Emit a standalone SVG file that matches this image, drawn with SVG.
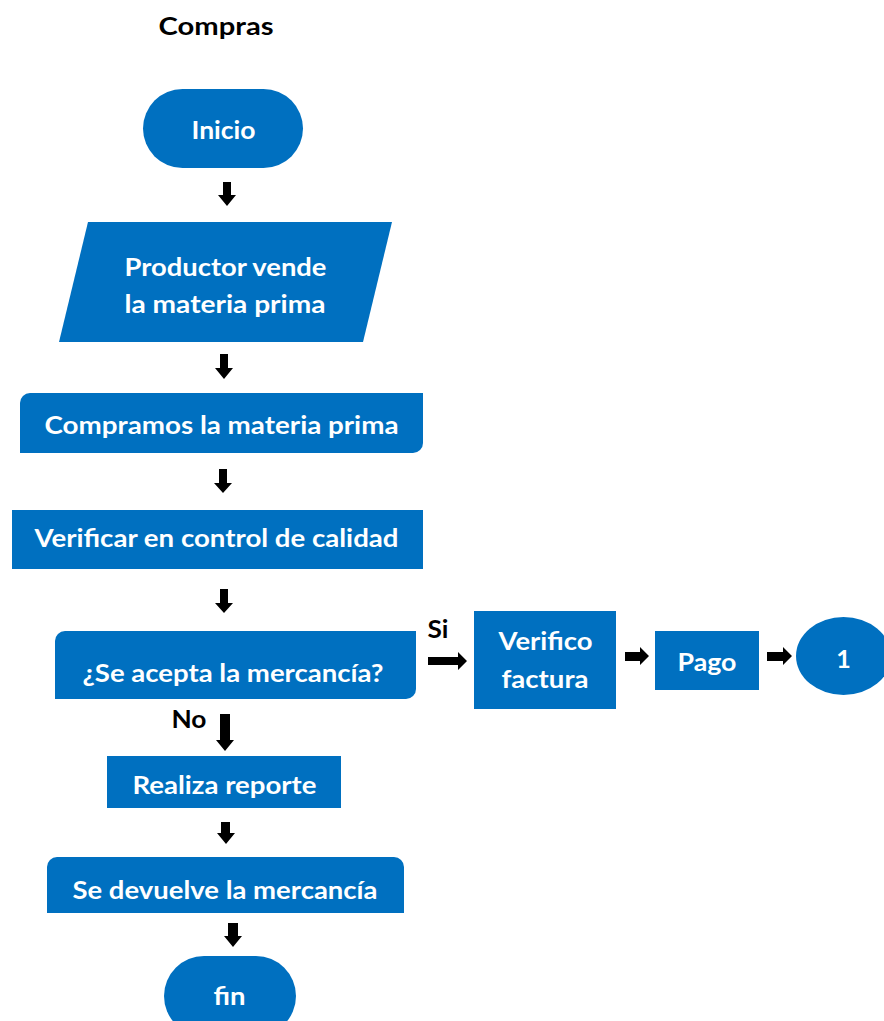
<svg xmlns="http://www.w3.org/2000/svg" width="884" height="1021" viewBox="0 0 884 1021">
<style>
.n{fill:#0070C0}
.t{fill:#fff;font-family:Lato,"Open Sans","Liberation Sans",sans-serif;font-weight:700;font-size:25px;text-anchor:middle}
.k{fill:#000;font-family:Lato,"Open Sans","Liberation Sans",sans-serif;font-weight:700;font-size:25px;text-anchor:middle}
.a{fill:#000}
</style>
<rect width="884" height="1021" fill="#fff"/>
<text class="k" x="216" y="35" textLength="115" lengthAdjust="spacingAndGlyphs">Compras</text>
<g id="inicio">
<rect class="n" x="143" y="89" width="160" height="79" rx="39.5"/>
<text class="t" x="223.5" y="139" textLength="64" lengthAdjust="spacingAndGlyphs">Inicio</text>
</g>
<g id="productor">
<polygon class="n" points="88,222 392,222 363,342 59,342"/>
<text class="t" x="225.5" y="276" textLength="202" lengthAdjust="spacingAndGlyphs">Productor vende</text>
<text class="t" x="225" y="313" textLength="201" lengthAdjust="spacingAndGlyphs">la materia prima</text>
</g>
<g id="compramos">
<path class="n" d="M30,393 H423 V443 A10,10 0 0 1 413,453 H20 V403 A10,10 0 0 1 30,393 Z"/>
<text class="t" x="221.5" y="434" textLength="354" lengthAdjust="spacingAndGlyphs">Compramos la materia prima</text>
</g>
<g id="verificar">
<rect class="n" x="12" y="510" width="411" height="59"/>
<text class="t" x="216.5" y="547" textLength="364" lengthAdjust="spacingAndGlyphs">Verificar en control de calidad</text>
</g>
<g id="acepta">
<path class="n" d="M65,631 H416 V689 A10,10 0 0 1 406,699 H55 V641 A10,10 0 0 1 65,631 Z"/>
<text class="t" x="233" y="682" textLength="301" lengthAdjust="spacingAndGlyphs">¿Se acepta la mercancía?</text>
</g>
<g id="reporte">
<rect class="n" x="107" y="756" width="234" height="52"/>
<text class="t" x="224.5" y="794" textLength="184" lengthAdjust="spacingAndGlyphs">Realiza reporte</text>
</g>
<g id="devuelve">
<path class="n" d="M57,857 H394 A10,10 0 0 1 404,867 V913 H47 V867 A10,10 0 0 1 57,857 Z"/>
<text class="t" x="225" y="899" textLength="305" lengthAdjust="spacingAndGlyphs">Se devuelve la mercancía</text>
</g>
<g id="fin">
<rect class="n" x="164" y="956" width="132" height="80" rx="40"/>
<text class="t" x="229.5" y="1005" textLength="32" lengthAdjust="spacingAndGlyphs">fin</text>
</g>
<g id="factura">
<rect class="n" x="474" y="611" width="142" height="98"/>
<text class="t" x="545.5" y="650" textLength="94" lengthAdjust="spacingAndGlyphs">Verifico</text>
<text class="t" x="545" y="688" textLength="87" lengthAdjust="spacingAndGlyphs">factura</text>
</g>
<g id="pago">
<rect class="n" x="655" y="631" width="104" height="59"/>
<text class="t" x="707" y="671" textLength="59" lengthAdjust="spacingAndGlyphs">Pago</text>
</g>
<g id="conector1">
<ellipse class="n" cx="843.5" cy="656" rx="47.5" ry="39"/>
<text class="t" x="843.5" y="668">1</text>
</g>
<g id="connectors">
<polygon class="a" points="223,182 231,182 231,195 236,195 227,206 218,195 223,195"/>
<polygon class="a" points="220,354 228,354 228,368 233,368 224,379 215,368 220,368"/>
<polygon class="a" points="219,469 227,469 227,483 232,483 223,493 214,483 219,483"/>
<polygon class="a" points="220,589 228,589 228,603 233,603 224,613 215,603 220,603"/>
<polygon class="a" points="220,714 230,714 230,740 234,740 225,751 216,740 220,740"/>
<polygon class="a" points="221,822 230,822 230,833 235,833 226,844 217,833 221,833"/>
<polygon class="a" points="228,923 238,923 238,936 242,936 233,947 224,936 228,936"/>
<polygon class="a" points="428,657 458,657 458,652 467,661 458,670 458,665 428,665"/>
<polygon class="a" points="625,652 640,652 640,647 649,656 640,665 640,661 625,661"/>
<polygon class="a" points="767,652 783,652 783,647 792,656 783,665 783,661 767,661"/>
<text class="k" x="438" y="638" textLength="21" lengthAdjust="spacingAndGlyphs">Si</text>
<text class="k" x="189" y="728" textLength="35" lengthAdjust="spacingAndGlyphs">No</text>
</g>
</svg>
